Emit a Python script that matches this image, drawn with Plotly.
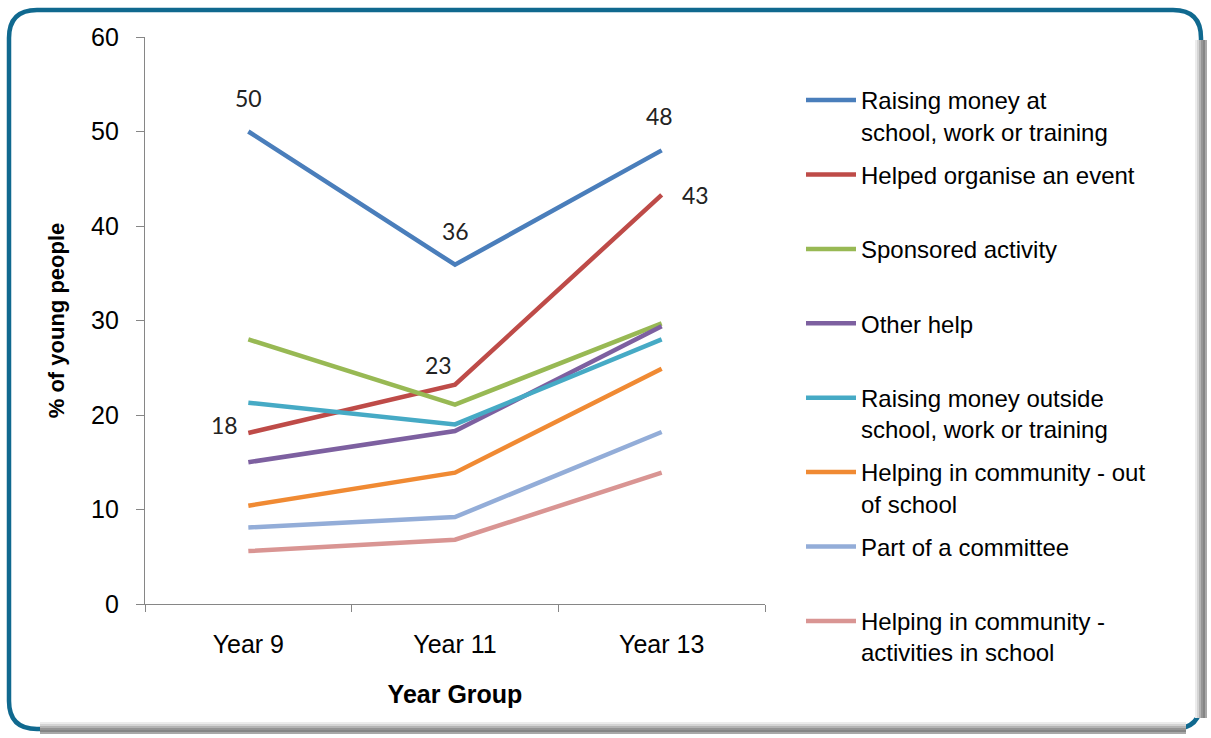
import plotly.graph_objects as go

categories = ["Year 9", "Year 11", "Year 13"]

series_names = [
    "Raising money at<br>school, work or training",
    "Helped organise an event",
    "Sponsored activity",
    "Other help",
    "Raising money outside<br>school, work or training",
    "Helping in community - out<br>of school",
    "Part of a committee",
    "Helping in community -<br>activities in school",
]
raising_at_school = [50.0, 35.9, 48.0]
organise_event = [18.1, 23.2, 43.3]
sponsored = [28.0, 21.1, 29.7]
other_help = [15.0, 18.3, 29.4]
raising_outside = [21.3, 19.0, 28.0]
community_out = [10.4, 13.9, 24.9]
committee = [8.1, 9.2, 18.2]
community_in = [5.6, 6.8, 13.9]

series_values = [raising_at_school, organise_event, sponsored, other_help,
                 raising_outside, community_out, committee, community_in]
colors = ["#4A7EBB", "#BE4B48", "#98B954", "#7D60A0",
          "#46AAC5", "#F08A33", "#93ADD8", "#D99593"]

# data labels: (series index, category index, label text)
label_series = [0, 0, 0, 1, 1, 1]
label_cats = [0, 1, 2, 0, 1, 2]
label_texts = ["50", "36", "48", "18", "23", "43"]
label_shift_x = [0, 0, -2, -24, -17, 34]
label_shift_y = [34, 34, 34, 8, 20, 0]

W, H = 1211, 738
L, R, T, B = 145, 765, 37, 604


def px(x):
    return (x - L) / (R - L)


def py(y):
    return (B - y) / (B - T)


fig = go.Figure()
for name, vals, col in zip(series_names, series_values, colors):
    disp = name if "<br>" in name else name + "<br>&nbsp;"
    fig.add_trace(go.Scatter(
        x=categories, y=vals, name=disp, mode="lines",
        line=dict(color=col, width=4.5), legendgroup=name,
    ))

annotations = []
for s, c, t, dx, dy in zip(label_series, label_cats, label_texts, label_shift_x, label_shift_y):
    annotations.append(dict(
        x=categories[c], y=series_values[s][c], xref="x", yref="y",
        text=t, showarrow=False, xshift=dx, yshift=dy,
        font=dict(family="Lato, sans-serif", size=23, color="#222222"),
        xanchor="center", yanchor="middle",
    ))

# frame: rounded rectangle (decorative)
x0, x1, y0, y1, r = 9, 1201, 10, 729, 28
path = (f"M {px(x0+r)},{py(y0)} L {px(x1-r)},{py(y0)} "
        f"Q {px(x1)},{py(y0)} {px(x1)},{py(y0+r)} "
        f"L {px(x1)},{py(y1-r)} Q {px(x1)},{py(y1)} {px(x1-r)},{py(y1)} "
        f"L {px(x0+r)},{py(y1)} Q {px(x0)},{py(y1)} {px(x0)},{py(y1-r)} "
        f"L {px(x0)},{py(y0+r)} Q {px(x0)},{py(y0)} {px(x0+r)},{py(y0)} Z")
shapes = [dict(type="path", xref="paper", yref="paper", path=path,
               line=dict(color="#10698F", width=4.5), layer="below")]
# shadow on right and bottom
shadow_cols = ["#ececec", "#d4d4d4", "#b4b4b4", "#959595", "#858585", "#a8a8a8"]
for i, sc in enumerate(shadow_cols):
    xx = 1196 + i * 2
    shapes.append(dict(type="line", xref="paper", yref="paper",
                       x0=px(xx), x1=px(xx), y0=py(40), y1=py(718),
                       line=dict(color=sc, width=2)))
    yy = 723 + i * 2
    shapes.append(dict(type="line", xref="paper", yref="paper",
                       x0=px(40), x1=px(1186), y0=py(yy), y1=py(yy),
                       line=dict(color=sc, width=2)))

fig.update_layout(
    width=W, height=H,
    margin=dict(l=L, r=W - R, t=T, b=H - B, autoexpand=False),
    paper_bgcolor="white", plot_bgcolor="white",
    font=dict(family="Arial, Liberation Sans, sans-serif", size=25, color="black"),
    showlegend=True,
    legend=dict(
        xref="container", yref="container",
        x=801 / W, y=1 - 78 / H, xanchor="left", yanchor="top",
        font=dict(family="Arial, Liberation Sans, sans-serif", size=24, color="black"),
        itemwidth=50, valign="top", tracegroupgap=9, maxheight=720,
        bgcolor="rgba(0,0,0,0)",
    ),
    xaxis=dict(
        type="category", range=[-0.5, 2.5], tickson="boundaries",
        showline=True, linecolor="#868686", linewidth=1.3,
        ticks="outside", ticklen=7, tickcolor="#868686", tickwidth=1.3,
        showgrid=False, zeroline=False, ticklabelstandoff=18,
        title=dict(text="<b>Year Group</b>", font=dict(size=25), standoff=28),
    ),
    yaxis=dict(
        range=[0, 60], dtick=10, showline=True, linecolor="#868686", linewidth=1.3,
        ticks="outside", ticklen=8, tickcolor="#868686", tickwidth=1.3,
        showgrid=False, zeroline=False, ticklabelstandoff=12,
        title=dict(text="<b>% of young people</b>", font=dict(size=22), standoff=20),
    ),
    annotations=annotations,
    shapes=shapes,
)

fig.write_html("out.html", config={"displayModeBar": False},
               post_script="document.body.style.margin='0';document.body.style.padding='0';")
